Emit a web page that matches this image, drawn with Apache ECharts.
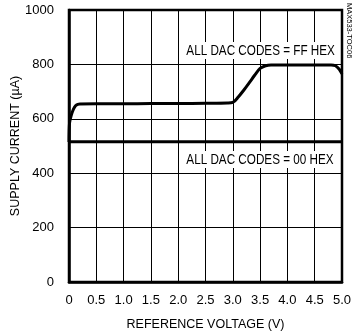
<!DOCTYPE html>
<html><head><meta charset="utf-8">
<script src="https://cdn.jsdelivr.net/npm/echarts@6/dist/echarts.min.js"></script>
<style>html,body{margin:0;padding:0;background:#fff}#c{width:355px;height:331px}</style>
</head><body><div id="c"></div>
<script>
var xTicks = [0,0.5,1.0,1.5,2.0,2.5,3.0,3.5,4.0,4.5,5.0];
var yTicks = [0,200,400,600,800,1000];
var ffVoltage = [0,0.01,0.04,0.08,0.12,0.16,0.2,0.5,1.0,1.5,2.0,2.5,2.9,3.0,3.1,3.2,3.3,3.4,3.5,3.6,3.7,4.0,4.5,4.8,4.88,4.95,5.0];
var ffCurrent = [515,585,612,635,648,653,654,655,655,656,656,657,658,660,680,705,732,760,785,795,798,798,798,798,795,782,765];
var zeroVoltage = [0,5.0];
var zeroCurrent = [516,516];
var labelFF = 'ALL DAC CODES = FF HEX';
var label00 = 'ALL DAC CODES = 00 HEX';
var fnt = '"Liberation Sans Narrow","Liberation Sans",Arial,sans-serif';

var chart = echarts.init(document.getElementById('c'), null, {renderer:'canvas'});
function pairs(xs, ys){ return xs.map(function(x,i){return [x, ys[i]];}); }
chart.setOption({
  animation:false,
  grid:{left:69, top:10, right:13, bottom:49, outerBoundsMode:'none', containLabel:false,
    show:true, borderColor:'#000', borderWidth:2.5, backgroundColor:'transparent'},
  xAxis:{type:'value', min:0, max:5, interval:0.5,
    name:'REFERENCE VOLTAGE (V)', nameLocation:'middle', nameGap:36, nameMoveOverlap:false,
    nameTextStyle:{fontFamily:fnt, fontSize:12.5, color:'#000'},
    axisLine:{show:true, lineStyle:{color:'#000', width:2.5}}, axisTick:{show:false},
    axisLabel:{fontFamily:fnt, fontSize:13, color:'#000', margin:12, hideOverlap:false,
      formatter:function(v){ var i = xTicks.indexOf(v); return v===0 ? '0' : xTicks[i].toFixed(1); }},
    splitLine:{show:true, lineStyle:{color:'#000', width:1}}},
  yAxis:{type:'value', min:0, max:1000, interval:200,
    name:'SUPPLY CURRENT (\u00b5A)', nameLocation:'middle', nameGap:47, nameMoveOverlap:false,
    nameTextStyle:{fontFamily:fnt, fontSize:12.5, color:'#000'},
    axisLine:{show:true, lineStyle:{color:'#000', width:2.5}}, axisTick:{show:false},
    axisLabel:{fontFamily:fnt, fontSize:13, color:'#000', margin:15,
      formatter:function(v){ return String(yTicks[yTicks.indexOf(v)]); }},
    splitLine:{show:true, lineStyle:{color:'#000', width:1}}},
  graphic:[
    {type:'text', left:184, top:42, scaleX:0.78, originX:0, z:10,
      style:{text:labelFF, font:'15px '+fnt, fill:'#000', backgroundColor:'#fff', padding:[1,3]}},
    {type:'text', left:184, top:151, scaleX:0.78, originX:0, z:10,
      style:{text:label00, font:'15px '+fnt, fill:'#000', backgroundColor:'#fff', padding:[1,3]}},
    {type:'text', left:345, top:3, rotation:-Math.PI/2, originX:0, originY:0, z:10,
      style:{text:'MAX533-TOC06', font:'7.5px '+fnt, fill:'#000'}}
  ],
  series:[
    {type:'line', data:pairs(ffVoltage, ffCurrent), smooth:0.3, symbol:'none', lineStyle:{color:'#000', width:3}, z:5},
    {type:'line', data:pairs(zeroVoltage, zeroCurrent), symbol:'none', lineStyle:{color:'#000', width:3}, z:5}
  ]
});
</script></body></html>
